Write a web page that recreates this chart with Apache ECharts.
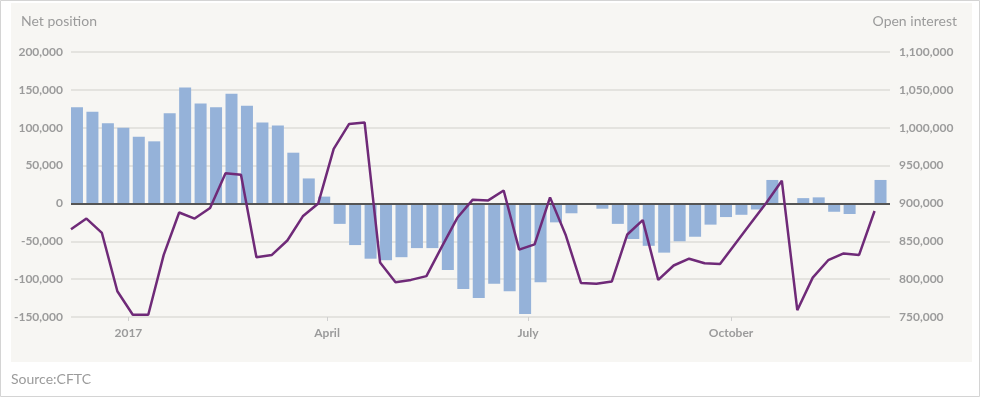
<!DOCTYPE html>
<html>
<head>
<meta charset="utf-8">
<script src="https://cdn.jsdelivr.net/npm/echarts@6/dist/echarts.min.js"></script>
<style>
html,body{margin:0;padding:0;background:#fff;}
#chart{width:981px;height:398px;}
</style>
</head>
<body>
<div id="chart"></div>
<script>
// Weekly report dates (CFTC)
var weeks = [
 "2016-12-06","2016-12-13","2016-12-20","2016-12-27",
 "2017-01-03","2017-01-10","2017-01-17","2017-01-24","2017-01-31",
 "2017-02-07","2017-02-14","2017-02-21","2017-02-28",
 "2017-03-07","2017-03-14","2017-03-21","2017-03-28",
 "2017-04-04","2017-04-11","2017-04-18","2017-04-25",
 "2017-05-02","2017-05-09","2017-05-16","2017-05-23","2017-05-30",
 "2017-06-06","2017-06-13","2017-06-20","2017-06-27",
 "2017-07-04","2017-07-11","2017-07-18","2017-07-25",
 "2017-08-01","2017-08-08","2017-08-15","2017-08-22","2017-08-29",
 "2017-09-05","2017-09-12","2017-09-19","2017-09-26",
 "2017-10-03","2017-10-10","2017-10-17","2017-10-24","2017-10-31",
 "2017-11-07","2017-11-14","2017-11-21","2017-11-28",
 "2017-12-05"
];
// Net position (bars, left axis)
var netPosition = [
 127000,121000,106000,100000,88000,82000,119000,153000,132000,127000,
 145000,129000,107000,103000,67000,33000,9000,-27000,-55000,-73000,
 -75000,-71000,-59000,-59000,-88000,-113000,-125000,-106000,-116000,-146000,
 -104000,-25000,-13000,0,-7000,-27000,-47000,-56000,-65000,-50000,
 -44000,-28000,-18000,-15000,-8000,31000,0,7000,8000,-11000,
 -14000,-1000,31000
];
// Open interest (line, right axis)
var openInterest = [
 866000,880000,861000,784000,753000,753000,832000,888000,880000,894000,
 940000,938000,829000,832000,851000,883000,900000,972000,1005000,1007000,
 822000,796000,799000,804000,843000,881000,905000,904000,917000,839000,
 846000,908000,859000,795000,794000,797000,859000,878000,799000,818000,
 827000,821000,820000,847000,874000,901000,930000,759000,802000,825000,
 834000,832000,890000
];
// x axis tick labels
var tickDates = ["2017-01-01","2017-04-01","2017-07-01","2017-10-01"];
var tickLabels = ["2017","April","July","October"];
var axisStart = "2016-12-06";
var axisEnd = "2017-12-12";

var leftTicks = {min:-150000, max:200000, interval:50000};
var rightTicks = {min:750000, max:1100000, interval:50000};

var t = function(d){ return Date.parse(d); };
var lineData = weeks.map(function(d,i){ return [t(d), openInterest[i]]; });
var tickValues = tickDates.map(t);
var spacer = weeks.map(function(){ return null; });

var fmt = function(v){ return v.toString().replace(/\B(?=(\d{3})+(?!\d))/g, ","); };
var labelColor = "#9b9b9b";
var font = "Lato, 'Noto Sans', sans-serif";

var chart = echarts.init(document.getElementById('chart'), null, {renderer:'canvas'});
chart.setOption({
  animation:false,
  textStyle:{fontFamily:font},
  graphic:[
    {type:'rect', z:-20, silent:true, shape:{x:0.5,y:0.5,width:979,height:396}, style:{fill:'#fff', stroke:'#d4d4d4', lineWidth:1}},
    {type:'rect', z:-10, silent:true, shape:{x:11,y:3,width:961,height:359}, style:{fill:'#f7f6f3'}},
    {type:'text', left:21, top:14, style:{text:'Net position', fill:labelColor, font:'14px '+font}},
    {type:'text', right:24, top:14, style:{text:'Open interest', fill:labelColor, font:'14px '+font, textAlign:'right'}},
    {type:'text', left:11, top:372, style:{text:'Source:CFTC', fill:labelColor, font:'14px '+font}}
  ],
  grid:{left:71, right:91, top:52, bottom:81, containLabel:false},
  xAxis:[
    {type:'category', data:weeks, boundaryGap:true,
     axisLine:{show:false}, axisTick:{show:false}, axisLabel:{show:false}, splitLine:{show:false}},
    {type:'value', min:t(axisStart), max:t(axisEnd), position:'bottom',
     axisLine:{show:false, onZero:false},
     axisTick:{show:true, length:4, customValues:tickValues, lineStyle:{color:'#cfcfcf'}},
     axisLabel:{show:true, customValues:tickValues, margin:10, color:labelColor, fontWeight:'bold', fontSize:12, fontFamily:font,
       formatter:function(v){ var k = tickValues.indexOf(v); return k>=0 ? tickLabels[k] : ''; }},
     splitLine:{show:false}}
  ],
  yAxis:[
    {type:'value', min:leftTicks.min, max:leftTicks.max, interval:leftTicks.interval, position:'left',
     axisLine:{show:false}, axisTick:{show:false},
     axisLabel:{color:labelColor, fontWeight:'bold', fontSize:12, margin:8, fontFamily:font, formatter:fmt},
     splitLine:{lineStyle:{color:'#dedcd8', width:1.5}}},
    {type:'value', min:rightTicks.min, max:rightTicks.max, interval:rightTicks.interval, position:'right',
     axisLine:{show:false}, axisTick:{show:false},
     axisLabel:{color:labelColor, fontWeight:'bold', fontSize:12, margin:9, fontFamily:font, formatter:fmt},
     splitLine:{show:false}}
  ],
  series:[
    {type:'bar', xAxisIndex:0, yAxisIndex:0, data:netPosition, barWidth:12, barGap:0,
     itemStyle:{color:'#95b2d9'},
     markLine:{silent:true, symbol:'none', label:{show:false}, z:4,
       lineStyle:{color:'#555', width:2, type:'solid'}, data:[{yAxis:0}]}},
    {type:'bar', xAxisIndex:0, yAxisIndex:0, data:spacer, barWidth:3.5, barGap:0, silent:true,
     itemStyle:{color:'rgba(0,0,0,0)'}},
    {type:'line', xAxisIndex:1, yAxisIndex:1, data:lineData, showSymbol:false, symbol:'none', z:5,
     lineStyle:{color:'#6f2a78', width:2.5}}
  ]
});
</script>
</body>
</html>
